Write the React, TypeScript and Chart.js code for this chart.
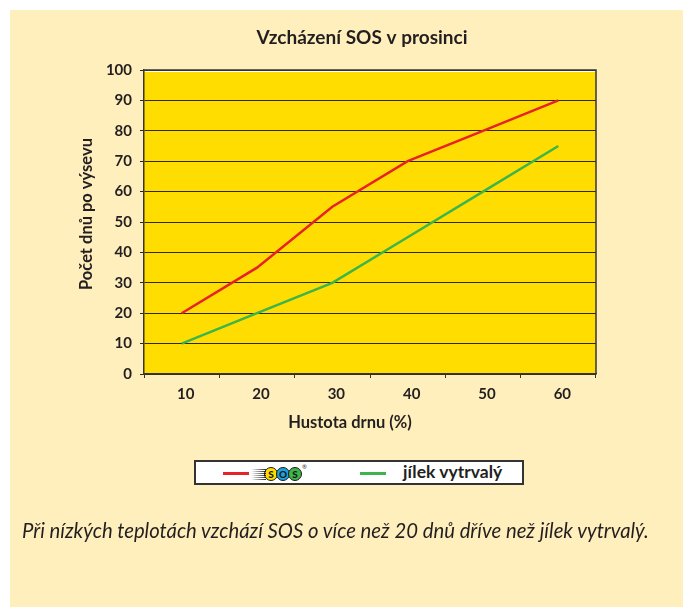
import React, { useEffect, useRef } from "react";
import { Chart, registerables } from "chart.js";

Chart.register(...registerables);

const categories = ["10", "20", "30", "40", "50", "60"];
const sosValues = [20, 35, 55, 70, 80, 90];
const jilekValues = [10, 20, 30, 45, 60, 75];
const yMin = 0;
const yMax = 100;
const yStep = 10;
const chartTitle = "Vzcházení SOS v prosinci";
const xTitle = "Hustota drnu (%)";
const yTitle = "Počet dnů po výsevu";
const legendLabels = ["SOS", "jílek vytrvalý"];
const caption = "Při nízkých teplotách vzchází SOS o více než 20 dnů dříve než jílek vytrvalý.";

const W = 683;
const H = 607;
const FONT = "Lato, 'Open Sans', sans-serif";
const INK = "#231f20";
const PANEL = "#feefbd";
const PLOT = "#ffdd00";
const RED = "#e8222b";
const GREEN = "#3db54a";

const decorPlugin = {
  id: "decor",
  beforeDraw(chart: any) {
    const { ctx, chartArea } = chart;
    ctx.save();
    ctx.fillStyle = "#ffffff";
    ctx.fillRect(0, 0, W, H);
    ctx.fillStyle = PANEL;
    ctx.fillRect(10, 10, W - 10, H - 10);
    ctx.fillStyle = PLOT;
    ctx.fillRect(chartArea.left, chartArea.top, chartArea.right - chartArea.left, chartArea.bottom - chartArea.top);
    ctx.restore();
  },
  beforeDatasetsDraw(chart: any) {
    const { ctx, chartArea } = chart;
    ctx.save();
    ctx.strokeStyle = "#3a3530";
    ctx.lineWidth = 1.5;
    ctx.beginPath();
    ctx.moveTo(chartArea.left, chartArea.top);
    ctx.lineTo(chartArea.right, chartArea.top);
    ctx.lineTo(chartArea.right, chartArea.bottom);
    ctx.stroke();
    ctx.strokeStyle = "#ffffff";
    ctx.lineWidth = 1;
    ctx.beginPath();
    ctx.moveTo(chartArea.left + 1, chartArea.top + 1.5);
    ctx.lineTo(chartArea.right - 1, chartArea.top + 1.5);
    ctx.stroke();
    ctx.restore();
  },
  afterDraw(chart: any) {
    const { ctx } = chart;
    ctx.save();
    ctx.fillStyle = INK;
    ctx.textAlign = "center";
    ctx.textBaseline = "middle";
    ctx.font = `bold 19px ${FONT}`;
    ctx.fillText(chartTitle, 362, 38);
    ctx.font = `bold 16.5px ${FONT}`;
    ctx.fillText(xTitle, 350, 423);
    ctx.font = `bold 16.5px ${FONT}`;
    ctx.translate(87, 214);
    ctx.rotate(-Math.PI / 2);
    ctx.fillText(yTitle, 0, 0);
    ctx.restore();
  },
};

function SosLogo() {
  const circle = (bg: string, letter: string) => (
    <span
      style={{
        display: "inline-block",
        width: 12,
        height: 12,
        borderRadius: "50%",
        background: bg,
        border: "1.5px solid #1a1a1a",
        color: "#1a1a1a",
        fontFamily: FONT,
        fontWeight: 900,
        fontSize: 10,
        lineHeight: "12px",
        textAlign: "center",
        marginLeft: -2,
      }}
    >
      {letter}
    </span>
  );
  return (
    <span style={{ display: "inline-flex", alignItems: "center", position: "relative" }} title={legendLabels[0]}>
      <span
        style={{
          display: "inline-block",
          width: 15,
          height: 12,
          background:
            "repeating-linear-gradient(180deg, transparent 0px, transparent 1px, rgba(0,0,0,0.85) 1px, rgba(0,0,0,0.85) 2px)",
          WebkitMaskImage: "linear-gradient(90deg, transparent, black)",
          maskImage: "linear-gradient(90deg, transparent, black)",
        }}
      />
      {circle("#ffdd00", "S")}
      {circle("#1ba1dc", "O")}
      {circle("#3db54a", "S")}
      <span style={{ fontSize: 6, position: "absolute", right: -5, top: -4, fontFamily: FONT, color: "#333" }}>®</span>
    </span>
  );
}

export default function App() {
  const canvasRef = useRef<HTMLCanvasElement | null>(null);

  useEffect(() => {
    const canvas = canvasRef.current;
    if (!canvas) return;
    const chart = new Chart(canvas, {
      type: "line",
      data: {
        labels: categories,
        datasets: [
          {
            label: legendLabels[0],
            data: sosValues,
            borderColor: RED,
            borderWidth: 2.5,
            pointRadius: 0,
            tension: 0,
            fill: false,
          },
          {
            label: legendLabels[1],
            data: jilekValues,
            borderColor: GREEN,
            borderWidth: 2.5,
            pointRadius: 0,
            tension: 0,
            fill: false,
          },
        ],
      },
      options: {
        responsive: false,
        animation: false,
        devicePixelRatio: 1,
        layout: { padding: { top: 70, left: 0, right: 87, bottom: 0 } },
        plugins: {
          legend: { display: false },
          title: { display: false },
          tooltip: { enabled: false },
        },
        scales: {
          x: {
            type: "category",
            offset: true,
            afterFit: (scale: any) => {
              scale.height = 233;
            },
            grid: {
              offset: true,
              drawOnChartArea: false,
              drawTicks: true,
              tickLength: 4,
              color: "#3a3530",
              lineWidth: 1,
            },
            border: { display: true, color: "#3a3530", width: 1.5 },
            ticks: {
              color: INK,
              font: { family: FONT, size: 15, weight: "bold" },
              padding: 7,
              labelOffset: 4,
              maxRotation: 0,
            },
          },
          y: {
            min: yMin,
            max: yMax,
            afterFit: (scale: any) => {
              scale.width = 144;
            },
            ticks: {
              stepSize: yStep,
              color: INK,
              font: { family: FONT, size: 15, weight: "bold" },
              padding: 8,
            },
            grid: {
              color: "#2e2a10",
              lineWidth: 1,
              drawTicks: true,
              tickLength: 4,
            },
            border: { display: true, color: "#3a3530", width: 1.5 },
          },
        },
      },
      plugins: [decorPlugin],
    });
    return () => chart.destroy();
  }, []);

  return (
    <div style={{ position: "absolute", left: 0, top: 0, width: W, height: H, overflow: "hidden" }}>
      <canvas ref={canvasRef} width={W} height={H} style={{ position: "absolute", left: 0, top: 0, width: W, height: H }} />
      <div
        style={{
          position: "absolute",
          left: 194,
          top: 460,
          width: 326,
          height: 21,
          background: "#ffffff",
          border: "2px solid #333",
          fontFamily: FONT,
        }}
      >
        <span style={{ position: "absolute", left: 27, top: 10, width: 26, height: 2.5, background: RED }} />
        <span style={{ position: "absolute", left: 55, top: 1.5 }}>
          <SosLogo />
        </span>
        <span style={{ position: "absolute", left: 164, top: 10, width: 26, height: 2.5, background: GREEN }} />
        <span
          style={{
            position: "absolute",
            left: 207,
            top: 0,
            fontWeight: "bold",
            fontSize: 17.5,
            lineHeight: "20px",
            color: INK,
            whiteSpace: "nowrap",
          }}
        >
          {legendLabels[1]}
        </span>
      </div>
      <div
        style={{
          position: "absolute",
          left: 22,
          top: 518,
          fontFamily: FONT,
          fontStyle: "italic",
          fontSize: 20.3,
          lineHeight: "24px",
          color: INK,
          whiteSpace: "nowrap",
        }}
      >
        {caption}
      </div>
    </div>
  );
}
